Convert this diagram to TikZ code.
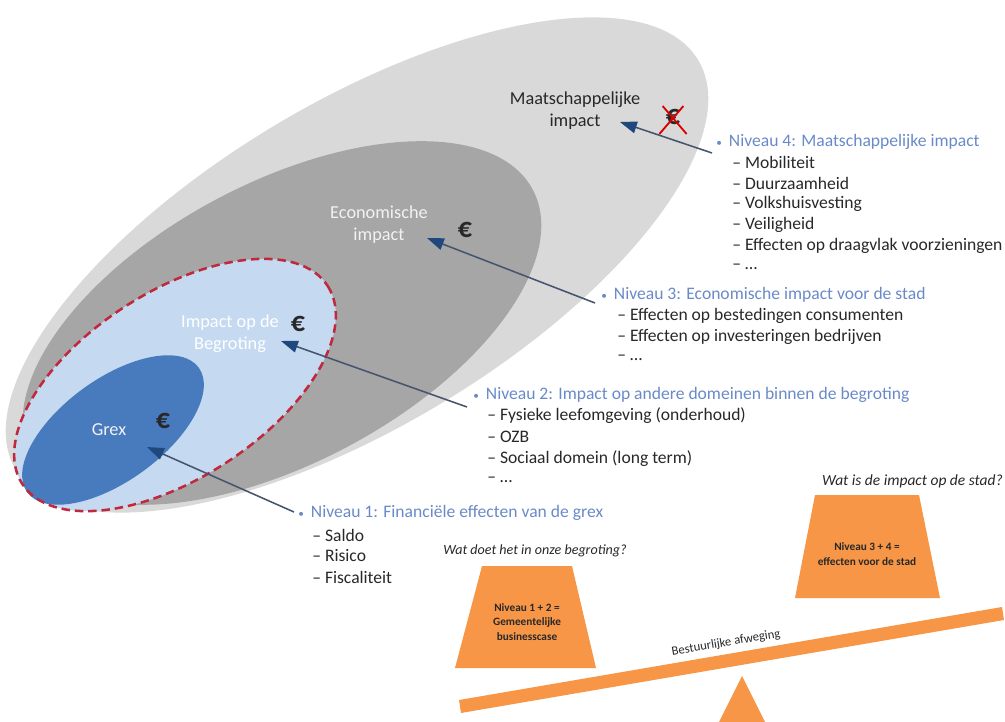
\documentclass[tikz,border=0pt]{standalone}
\usepackage{fontspec}
\setmainfont{Carlito}
\usetikzlibrary{arrows.meta}

\definecolor{outergrey}{RGB}{217,217,217}
\definecolor{econgrey}{RGB}{166,166,166}
\definecolor{begblue}{RGB}{197,217,241}
\definecolor{grexblue}{RGB}{72,122,190}
\definecolor{dashred}{RGB}{192,40,60}
\definecolor{lvlblue}{RGB}{105,138,200}
\definecolor{pointerline}{RGB}{70,85,110}
\definecolor{pointertip}{RGB}{31,73,125}
\definecolor{scaleorange}{RGB}{247,150,70}
\definecolor{darktext}{RGB}{40,40,40}

\tikzset{
  zonelbl/.style={font=\fontsize{13}{15.6}\selectfont, align=center, inner sep=0pt},
  euro/.style={font=\fontsize{20}{20}\selectfont\bfseries, text=darktext, inner sep=0pt},
  lvltitle/.style={font=\fontsize{12.5}{15}\selectfont, text=lvlblue, anchor=west, inner sep=0pt},
  lvlitem/.style={font=\fontsize{12.5}{15}\selectfont, text=darktext, anchor=west, inner sep=0pt},
  pointer/.style={draw=pointerline, line width=1.1pt,
    -{Triangle[length=12pt,width=8.5pt,color=pointertip]}},
  question/.style={font=\fontsize{10}{12}\selectfont\itshape, text=darktext, inner sep=0pt},
  weighttxt/.style={font=\fontsize{8}{10.5}\selectfont\bfseries, text=darktext, align=center, inner sep=0pt},
}

\begin{document}
\begin{tikzpicture}[x=0.025cm,y=-0.025cm]
  \useasboundingbox (0,0) rectangle (1005,722);

  % nested zones
  \fill[outergrey, rotate around={31:(357,265)}] (357,265) ellipse [x radius=398, y radius=162];
  \fill[econgrey, rotate around={28:(282,323)}] (282,323) ellipse [x radius=284, y radius=140];
  \fill[begblue, rotate around={33:(175,385)}] (175,385) ellipse [x radius=182, y radius=93];
  \fill[grexblue, rotate around={36:(113,430)}] (113,430) ellipse [x radius=106, y radius=51];
  \draw[dashred, line width=1.8pt, dash pattern=on 6pt off 3.5pt, rotate around={33:(175,385)}]
    (175,385) ellipse [x radius=182, y radius=93];

  % zone labels
  \node[zonelbl, text=darktext] (maatlbl) at (575,111) {Maatschappelijke\\impact};
  \node[zonelbl, text=white!95!black] (econlbl) at (379,225) {Economische\\impact};
  \node[zonelbl, text=white] (beglbl) at (230,334) {Impact op de\\Begroting};
  \node[zonelbl, text=white!95!black] (grexlbl) at (109,430) {Grex};

  \node[euro] (eur4) at (673,117) {€};
  \draw[red!85!black, line width=1.3pt] (eur4.north west) ++(-3,-3) -- ++(24,28);
  \draw[red!85!black, line width=1.3pt] (eur4.north east) ++(3,-3) -- ++(-24,28);
  \node[euro] (eur3) at (465,230) {€};
  \node[euro] (eur2) at (298,324) {€};
  \node[euro] (eur1) at (163,421) {€};

  % level texts
  \node[lvltitle] (lvl4) at (716,142) {{\fontsize{8}{8}\selectfont\textbullet}\hspace{5pt}Niveau 4: Maatschappelijke impact};
  \foreach \txt [count=\i] in {Mobiliteit, Duurzaamheid, Volkshuisvesting, Veiligheid,
      Effecten op draagvlak voorzieningen, \ldots}
    \node[lvlitem] (item4-\i) at (732,142+20.8*\i) {-- \txt};

  \node[lvltitle] (lvl3) at (601,295) {{\fontsize{8}{8}\selectfont\textbullet}\hspace{5pt}Niveau 3: Economische impact voor de stad};
  \foreach \txt [count=\i] in {Effecten op bestedingen consumenten, Effecten op investeringen bedrijven, \ldots}
    \node[lvlitem] (item3-\i) at (617,295+21*\i) {-- \txt};

  \node[lvltitle] (lvl2) at (473,395) {{\fontsize{8}{8}\selectfont\textbullet}\hspace{5pt}Niveau 2: Impact op andere domeinen binnen de begroting};
  \foreach \txt [count=\i] in {Fysieke leefomgeving (onderhoud), OZB, Sociaal domein (long term), \ldots}
    \node[lvlitem] (item2-\i) at (487,394+21.5*\i) {-- \txt};

  \node[lvltitle] (lvl1) at (298,513) {{\fontsize{8}{8}\selectfont\textbullet}\hspace{5pt}Niveau 1: Financiële effecten van de grex};
  \foreach \txt [count=\i] in {Saldo, Risico, Fiscaliteit}
    \node[lvlitem] (item1-\i) at (312,514+21*\i) {-- \txt};

  % pointers
  \coordinate (tail4) at (712,153);
  \coordinate (tip4) at (620,122);
  \coordinate (tail3) at (595,303);
  \coordinate (tip3) at (427,238);
  \coordinate (tail2) at (467,407);
  \coordinate (tip2) at (281,341);
  \coordinate (tail1) at (294,512);
  \coordinate (tip1) at (147,447);
  \foreach \n in {1,2,3,4}
    \draw[pointer] (tail\n) -- (tip\n);

  % the balance
  \node[question] (q12) at (535,551) {Wat doet het in onze begroting?};
  \node[question, font=\fontsize{11}{12}\selectfont\itshape, anchor=east] (q34) at (1003,481) {Wat is de impact op de stad?};
  \fill[scaleorange] (482,566) -- (572,566) -- (596,668) -- (455,668) -- cycle;
  \fill[scaleorange] (815,495) -- (919,495) -- (940,598) -- (795,598) -- cycle;
  \node[weighttxt] (w12) at (527,622) {Niveau 1 + 2 =\\Gemeentelijke\\businesscase};
  \node[weighttxt] (w34) at (867,554) {Niveau 3 + 4 =\\effecten voor de stad};
  \fill[scaleorange] (459,700) -- (1002,607) -- (1004,620) -- (461,713) -- cycle;
  \fill[scaleorange] (742,676) -- (765,722) -- (719,722) -- cycle;
  \node[font=\fontsize{9}{9}\selectfont, text=darktext, rotate=9.5, inner sep=0pt] (afweging) at (726,643) {Bestuurlijke afweging};
\end{tikzpicture}
\end{document}
